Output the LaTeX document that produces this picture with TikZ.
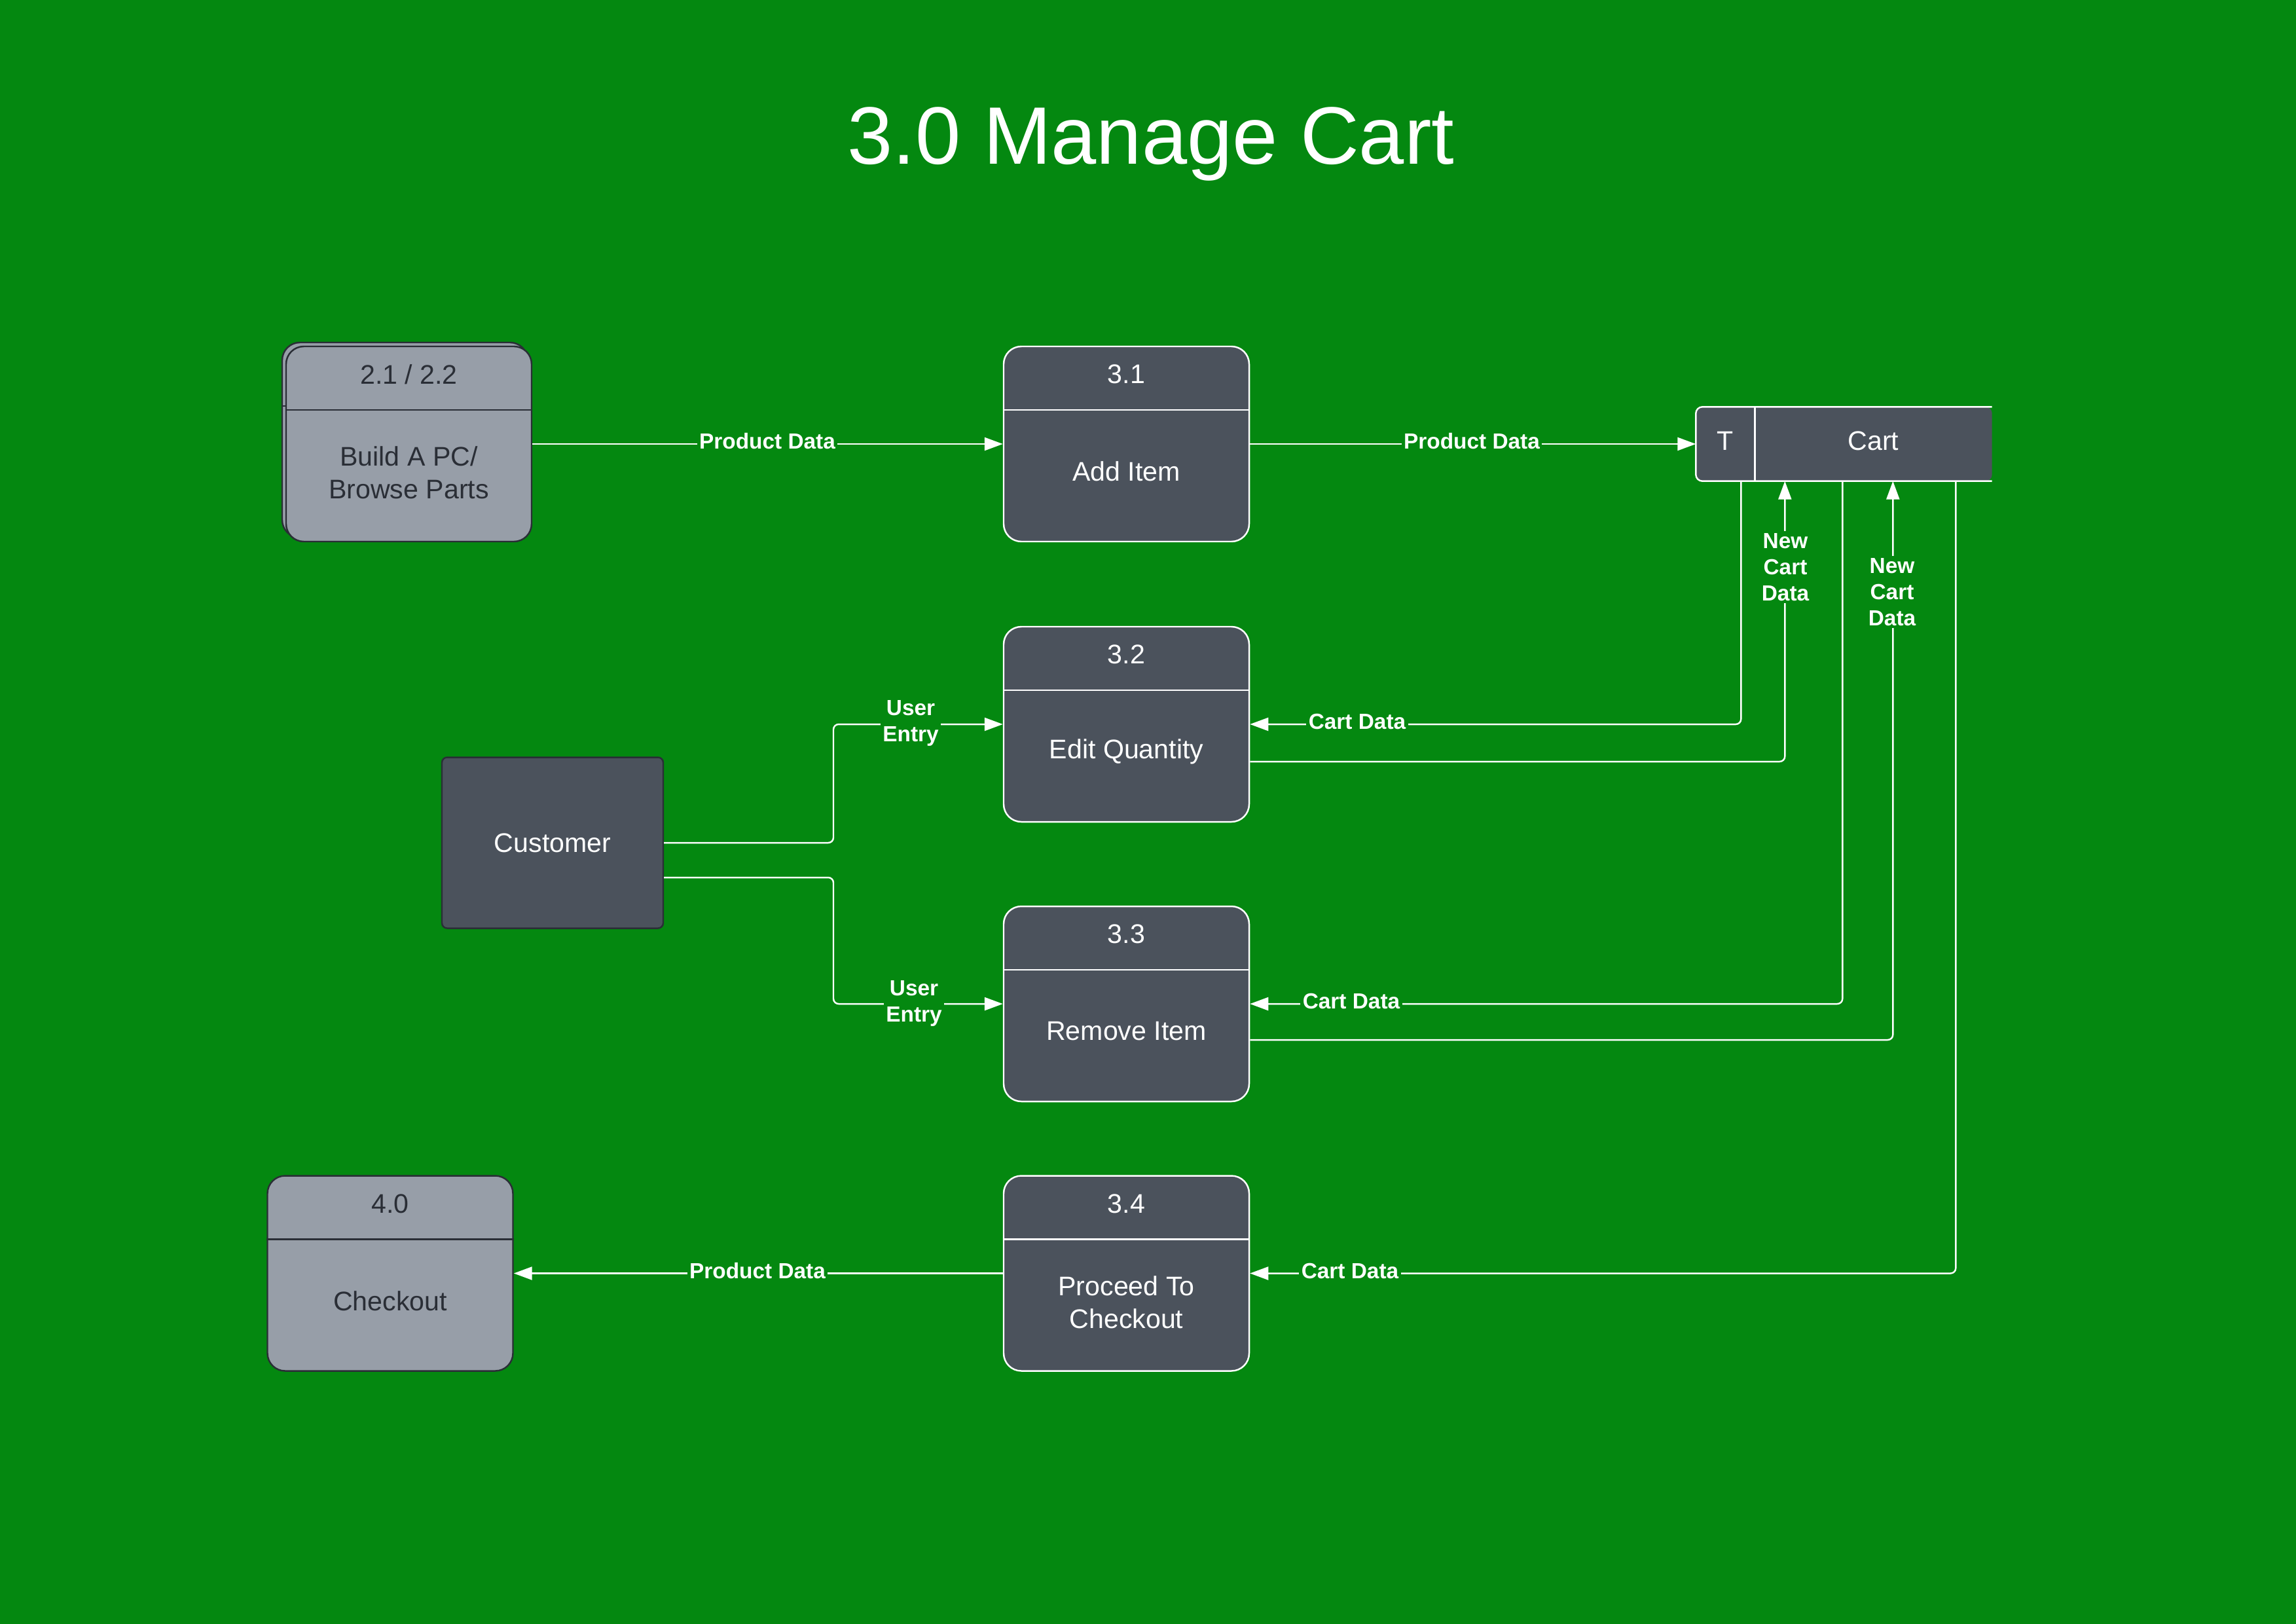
\documentclass[tikz,border=0pt]{standalone}
\usepackage{fontspec}
\setmainfont{Liberation Sans}
\usepackage{xcolor}
\usetikzlibrary{calc, arrows.meta, positioning}

\definecolor{bggreen}{RGB}{4,136,16}
\definecolor{boxdark}{RGB}{75,82,92}
\definecolor{boxlight}{RGB}{151,158,168}
\definecolor{inkdark}{RGB}{42,46,54}

\begin{document}
\begin{tikzpicture}[>={Triangle[length=0.28cm,width=0.2cm]},
  proc/.style={rectangle, rounded corners=0.27cm, draw=white, fill=boxdark, line width=0.7pt,
    minimum width=3.75cm, minimum height=2.98cm, inner sep=0pt},
  extproc/.style={proc, draw=inkdark, fill=boxlight},
  boxtxt/.style={text=white, align=center, font=\fontsize{11.7}{14.2}\selectfont},
  exttxt/.style={boxtxt, text=inkdark},
  divline/.style={white, line width=0.7pt},
  flow/.style={white, line width=0.7pt, rounded corners=0.08cm, ->},
  lbl/.style={fill=bggreen, text=white, inner sep=1pt, align=center,
    font=\fontsize{9.5}{11.4}\selectfont\bfseries}]
  % ---- Page ----
  \useasboundingbox (0,0) rectangle (35.07,-24.79);
  \fill[bggreen] (-0.2,0.2) rectangle (35.27,-24.99);
  \node[text=white, font=\fontsize{35.4}{42}\selectfont, anchor=base] (title) at (17.58,-2.50) {3.0 Manage Cart};

  % ---- Outside processes ----
  \node[extproc] (buildbk) at (6.185,-6.72) {};
  \draw[divline, draw=inkdark] ($(buildbk.north west)+(0,-0.98)$) -- ($(buildbk.north east)+(0,-0.98)$);
  \node[extproc] (build) at (6.245,-6.78) {};
  \draw[divline, draw=inkdark] ($(build.north west)+(0,-0.98)$) -- ($(build.north east)+(0,-0.98)$);
  \node[exttxt] (buildnum) at ($(build.north)+(0,-0.44)$) {2.1 / 2.2};
  \node[exttxt] (buildtxt) at ($(build.center)+(0,-0.44)$) {Build A PC/\\Browse Parts};

  \node[extproc] (checkout) at (5.96,-19.445) {};
  \draw[divline, draw=inkdark] ($(checkout.north west)+(0,-0.98)$) -- ($(checkout.north east)+(0,-0.98)$);
  \node[exttxt] (checkoutnum) at ($(checkout.north)+(0,-0.44)$) {4.0};
  \node[exttxt] (checkouttxt) at ($(checkout.center)+(0,-0.42)$) {Checkout};

  \node[rectangle, rounded corners=0.08cm, draw=inkdark, fill=boxdark, line width=0.7pt,
    minimum width=3.38cm, minimum height=2.61cm, boxtxt] (cust) at (8.44,-12.87) {Customer};

  % ---- Processes 3.1 to 3.4 ----
  \node[proc] (add) at (17.205,-6.78) {};
  \draw[divline] ($(add.north west)+(0,-0.98)$) -- ($(add.north east)+(0,-0.98)$);
  \node[boxtxt] (addnum) at ($(add.north)+(0,-0.44)$) {3.1};
  \node[boxtxt] (addtxt) at ($(add.center)+(0,-0.42)$) {Add Item};

  \node[proc] (edit) at (17.205,-11.06) {};
  \draw[divline] ($(edit.north west)+(0,-0.98)$) -- ($(edit.north east)+(0,-0.98)$);
  \node[boxtxt] (editnum) at ($(edit.north)+(0,-0.44)$) {3.2};
  \node[boxtxt] (edittxt) at ($(edit.center)+(0,-0.42)$) {Edit Quantity};

  \node[proc] (remove) at (17.205,-15.33) {};
  \draw[divline] ($(remove.north west)+(0,-0.98)$) -- ($(remove.north east)+(0,-0.98)$);
  \node[boxtxt] (removenum) at ($(remove.north)+(0,-0.44)$) {3.3};
  \node[boxtxt] (removetxt) at ($(remove.center)+(0,-0.42)$) {Remove Item};

  \node[proc] (proceed) at (17.205,-19.445) {};
  \draw[divline] ($(proceed.north west)+(0,-0.98)$) -- ($(proceed.north east)+(0,-0.98)$);
  \node[boxtxt] (proceednum) at ($(proceed.north)+(0,-0.44)$) {3.4};
  \node[boxtxt] (proceedtxt) at ($(proceed.center)+(0,-0.44)$) {Proceed To\\Checkout};

  % ---- Data store ----
  \node[rectangle, minimum width=4.51cm, minimum height=1.12cm, inner sep=0pt] (cart) at (28.165,-6.78) {};
  \fill[boxdark, rounded corners=0.1cm] (cart.north west) rectangle (cart.south east);
  \draw[divline, rounded corners=0.1cm] (cart.north east) -- (cart.north west) -- (cart.south west) -- (cart.south east);
  \draw[divline] ($(cart.north west)+(0.9,0)$) -- ($(cart.south west)+(0.9,0)$);
  \node[boxtxt] (cartid) at ($(cart.west)+(0.45,0.05)$) {T};
  \node[boxtxt] (carttxt) at ($(cart.center)+(0.45,0.05)$) {Cart};

  % ---- Flows ----
  \coordinate (split) at (12.73,0);
  \draw[flow] (build.east) -- (add.west);
  \draw[flow] (add.east) -- (cart.west);
  \draw[flow] (cust.east) -| (split |- edit.west) -- (edit.west);
  \draw[flow] ($(cust.east)+(0,-0.53)$) -| (split |- remove.west) -- (remove.west);
  \draw[flow] ($(cart.south west)+(0.69,0)$) |- (edit.east);
  \draw[flow] ($(edit.east)+(0,-0.57)$) -| ($(cart.south west)+(1.36,0)$);
  \draw[flow] ($(cart.south west)+(2.24,0)$) |- (remove.east);
  \draw[flow] ($(remove.east)+(0,-0.55)$) -| ($(cart.south west)+(3.01,0)$);
  \draw[flow] ($(cart.south west)+(3.97,0)$) |- (proceed.east);
  \draw[flow] (proceed.west) -- (checkout.east);

  % ---- Flow labels ----
  \node[lbl] (pd1) at (11.72,-6.74) {Product Data};
  \node[lbl] (pd2) at (22.48,-6.74) {Product Data};
  \node[lbl] (ue1) at (13.91,-11.04) {User\\Entry};
  \node[lbl] (ue2) at (13.96,-15.32) {User\\Entry};
  \node[lbl] (cd1) at (20.73,-11.02) {Cart Data};
  \node[lbl] (cd2) at (20.64,-15.29) {Cart Data};
  \node[lbl] (cd3) at (20.62,-19.41) {Cart Data};
  \node[lbl] (pd3) at (11.57,-19.41) {Product Data};
  \node[lbl] (nc1) at (27.27,-8.66) {New\\Cart\\Data};
  \node[lbl] (nc2) at (28.90,-9.04) {New\\Cart\\Data};
\end{tikzpicture}
\end{document}
